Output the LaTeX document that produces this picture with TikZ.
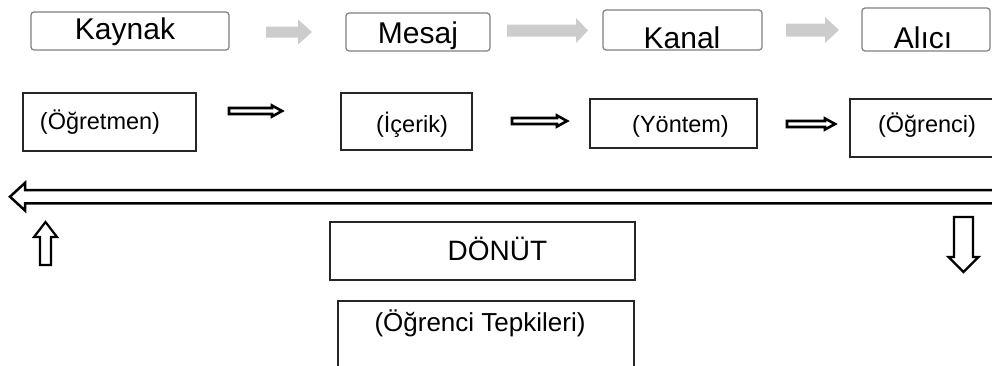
\documentclass[tikz,border=0pt]{standalone}
\usepackage{fontspec}
\setmainfont{Liberation Sans}
\usepackage{tikz}
\usetikzlibrary{positioning}

% block arrow: style, tail point, angle, length, head length, half shaft, half head
\newcommand{\blkarrow}[7]{%
  \draw[#1,shift={#2},rotate=#3] (0,-#6) -- ({#4-#5},-#6) -- ({#4-#5},-#7) -- (#4,0)
    -- ({#4-#5},#7) -- ({#4-#5},#6) -- (0,#6) -- cycle;}

\begin{document}
\begin{tikzpicture}[x=1pt,y=-1pt,
    topbox/.style={draw=black!50, line width=1.2pt, rounded corners=3pt, inner sep=0pt},
    flatbox/.style={draw=black!85, line width=1.1pt, inner sep=0pt},
    txt/.style={anchor=base, inner sep=0pt, font=\fontsize{#1pt}{#1pt}\selectfont},
    grayarr/.style={fill=black!20, draw=none},
    hollow/.style={draw=black, fill=white, line width=#1, line join=miter}]
    \useasboundingbox (0,0) rectangle (992,365);

    % top row: model terms
    \node[topbox, minimum width=198pt, minimum height=38pt] (kaynak) at (130,31) {};
    \node[topbox, minimum width=144pt, minimum height=38pt] (mesaj) at (418,32) {};
    \node[topbox, minimum width=159pt, minimum height=40pt] (kanal) at (682.5,30) {};
    \node[topbox, minimum width=128pt, minimum height=43pt] (alici) at (926,29.5) {};
    \node[txt=30] (kaynak-t) at (125,39.3) {Kaynak};
    \node[txt=30] (mesaj-t) at (418,43) {Mesaj};
    \node[txt=30] (kanal-t) at (682,48) {Kanal};
    \node[txt=30] (alici-t) at (923,48) {Alıcı};
    \blkarrow{grayarr}{(266,32)}{0}{46}{14}{5.5}{12.5}
    \blkarrow{grayarr}{(507,30.5)}{0}{81}{12}{6}{12.5}
    \blkarrow{grayarr}{(786,30)}{0}{53}{14}{6.5}{13}

    % second row
    \node[flatbox, minimum width=173pt, minimum height=58pt] (ogretmen) at (109.5,122) {};
    \node[flatbox, minimum width=131pt, minimum height=57pt] (icerik) at (406.5,121.5) {};
    \node[flatbox, minimum width=167pt, minimum height=49pt] (yontem) at (673.5,123.5) {};
    \node[flatbox, minimum width=154pt, minimum height=58pt] (ogrenci) at (927,128) {};
    \node[txt=23.5] (ogretmen-t) at (100,129) {(Öğretmen)};
    \node[txt=23.5] (icerik-t) at (412,132) {(İçerik)};
    \node[txt=23.5] (yontem-t) at (680.5,132) {(Yöntem)};
    \node[txt=23.5] (ogrenci-t) at (927,132) {(Öğrenci)};
    \blkarrow{hollow=2.6pt}{(229,111)}{0}{53}{10}{3}{5.5}
    \blkarrow{hollow=2.6pt}{(512,121)}{0}{55}{10}{3}{5.5}
    \blkarrow{hollow=2.6pt}{(787,124)}{0}{48}{10}{3}{5.5}

    % feedback
    \blkarrow{hollow=2.5pt}{(1000,196.7)}{180}{990}{15}{6.6}{13.8}
    \blkarrow{hollow=2.2pt}{(45.5,265)}{90}{43}{15}{5.5}{11.5}
    \blkarrow{hollow=2.2pt}{(963.5,217)}{270}{55}{15}{9.5}{15}

    \node[flatbox, minimum width=305pt, minimum height=58pt] (donut) at (482.5,251) {};
    \node[flatbox, minimum width=296pt, minimum height=79pt] (tepki) at (486,340.5) {};
    \node[txt=28] (donut-t) at (497.5,260) {DÖNÜT};
    \node[txt=26] (tepki-t) at (480,331) {(Öğrenci Tepkileri)};
\end{tikzpicture}
\end{document}
